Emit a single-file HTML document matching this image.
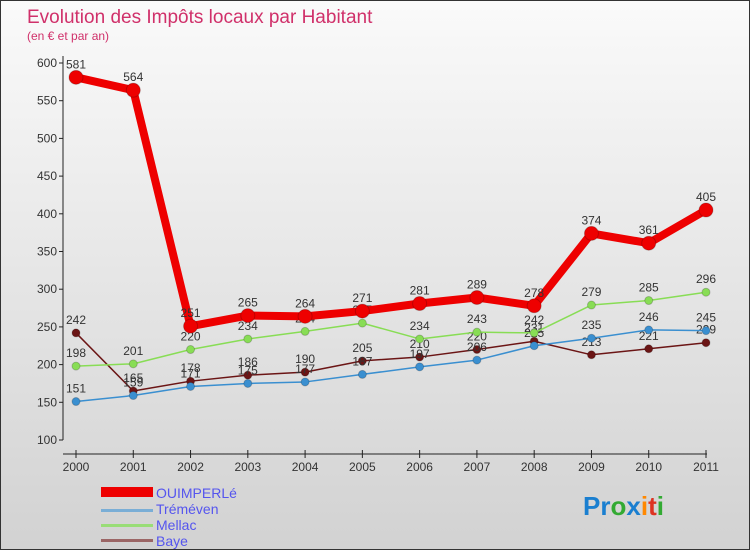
<!DOCTYPE html>
<html><head><meta charset="utf-8"><style>
body{margin:0}
#c{width:750px;height:550px;position:relative;background:linear-gradient(#fafafa,#d2d2d2);border:1px solid #333;box-sizing:border-box;font-family:"Liberation Sans",sans-serif;overflow:hidden}
</style></head><body>
<div id="c">
<svg id="s" width="750" height="550" style="position:absolute;left:0;top:0">
<text x="26" y="22" font-size="19" fill="#d0306a">Evolution des Impôts locaux par Habitant</text>
<text x="26" y="39" font-size="12" fill="#d0306a">(en € et par an)</text>
<g id="axes"></g><g id="series"></g>
<g>
<rect x="100" y="486" width="52" height="10" fill="#e00"/>
<text x="155" y="497" font-size="14" fill="#5555ee">OUIMPERLé</text>
<rect x="100" y="508" width="52" height="3" fill="#7aaed6"/>
<text x="155" y="513" font-size="14" fill="#5555ee">Tréméven</text>
<rect x="100" y="523" width="52" height="3" fill="#99dd77"/>
<text x="155" y="529" font-size="14" fill="#5555ee">Mellac</text>
<rect x="100" y="538" width="52" height="3" fill="#9b6666"/>
<text x="155" y="545" font-size="14" fill="#5555ee">Baye</text>
</g>
<text x="582" y="514" font-size="26" font-weight="bold"><tspan fill="#1a7fd0">Pr</tspan><tspan fill="#33aa33">o</tspan><tspan fill="#1a7fd0">x</tspan><tspan fill="#ff8800">i</tspan><tspan fill="#dd3322">t</tspan><tspan fill="#33aa33">i</tspan></text>
</svg></div>
<script>
const years=["2000","2001","2002","2003","2004","2005","2006","2007","2008","2009","2010","2011"];
const quimperle=[581,564,251,265,264,271,281,289,278,374,361,405];
const tremeven=[151,159,171,175,177,187,197,206,225,235,246,245];
const mellac=[198,201,220,234,244,255,234,243,242,279,285,296];
const baye=[242,165,178,186,190,205,210,220,231,213,221,229];
const yTicks=[100,150,200,250,300,350,400,450,500,550,600];
const NS="http://www.w3.org/2000/svg";
const X=i=>75+i*(630/11), Y=v=>439-(v-100)*(377/500);
function mk(t,a,p){const e=document.createElementNS(NS,t);for(const k in a)e.setAttribute(k,a[k]);p.appendChild(e);return e;}
const ax=document.getElementById('axes');
let l=mk('line',{x1:62,y1:453,x2:706,y2:453,stroke:'#222'},ax);


l=mk('line',{x1:62,y1:55,x2:62,y2:439,stroke:'#222'},ax);


yTicks.forEach(v=>{
 mk('line',{x1:58,y1:Y(v),x2:62,y2:Y(v),stroke:'#222'},ax);
 const t=mk('text',{x:56,y:Y(v)+4,'font-size':12,'text-anchor':'end',fill:'#333'},ax);t.textContent=v;
 
 
});
years.forEach((y,i)=>{
 mk('line',{x1:X(i),y1:449,x2:X(i),y2:457,stroke:'#222'},ax);
 const t=mk('text',{x:X(i),y:470,'font-size':12,'text-anchor':'middle',fill:'#333'},ax);t.textContent=y;
 
 
});
const sg=document.getElementById('series');
function draw(name,data,col,w,r){
 const g=mk('g',{},sg);
 
 
 const p=mk('polyline',{points:data.map((v,i)=>X(i)+','+Y(v)).join(' '),fill:'none',stroke:col,'stroke-width':w,'stroke-linejoin':'round'},g);
 
 
 data.forEach((v,i)=>{
  const c=mk('circle',{cx:X(i),cy:Y(v),r:r,fill:col,stroke:'#00000033'},g);
  
  
  const t=mk('text',{x:X(i),y:Y(v)-9,'font-size':12,'text-anchor':'middle',fill:'#333'},g);t.textContent=v;
  
  
 });
}
draw('baye',baye,'#6b1515',1.5,4);
draw('tremeven',tremeven,'#3a8fd0',1.5,4);
draw('mellac',mellac,'#88dd55',1.5,4);
draw('quimperle',quimperle,'#ee0000',8,7);
</script></body></html>
